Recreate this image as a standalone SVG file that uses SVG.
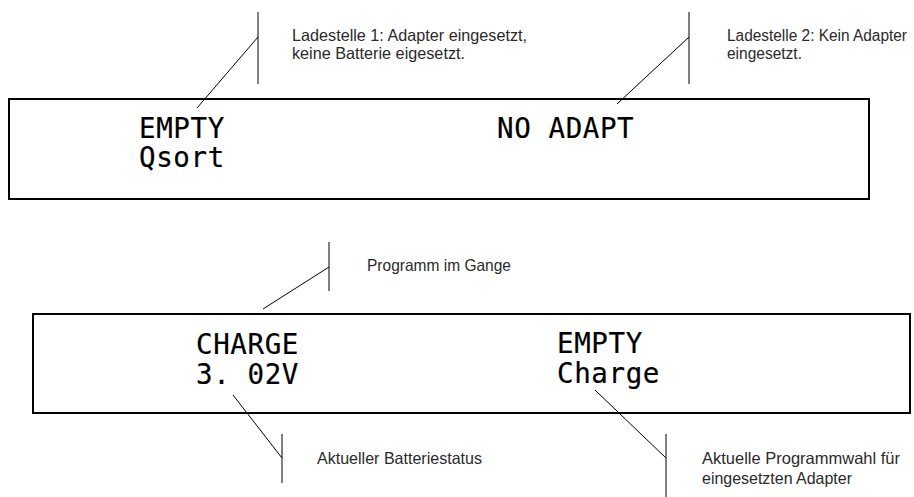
<svg xmlns="http://www.w3.org/2000/svg" width="914" height="497" viewBox="0 0 914 497">
<style>
.box{fill:none;stroke:#000;stroke-width:2}
.ln{fill:none;stroke:#000;stroke-width:1}
.lcd{font-family:"DejaVu Sans Mono","Liberation Mono",monospace;font-size:27.5px;letter-spacing:0.6px;fill:#000;stroke:#000;stroke-width:0.2}
.lbl{font-family:"Liberation Sans","Arial",sans-serif;font-size:16.5px;fill:#2a2a2a}
</style>
<g id="display1">
<rect class="box" x="9" y="99" width="860" height="100"/>
<text class="lcd" x="139" y="138">EMPTY</text>
<text class="lcd" x="139" y="167">Qsort</text>
<text class="lcd" x="497" y="138">NO ADAPT</text>
</g>
<g id="display2">
<rect class="box" x="33" y="314" width="877" height="99"/>
<text class="lcd" x="196" y="354">CHARGE</text>
<text class="lcd" x="196" y="384">3. 02V</text>
<text class="lcd" x="557" y="353">EMPTY</text>
<text class="lcd" x="557" y="383">Charge</text>
</g>
<g id="label1">
<text class="lbl" x="292" y="41" textLength="235" lengthAdjust="spacingAndGlyphs">Ladestelle 1: Adapter eingesetzt,</text>
<text class="lbl" x="292" y="59" textLength="173" lengthAdjust="spacingAndGlyphs">keine Batterie eigesetzt.</text>
</g>
<g id="label2">
<text class="lbl" x="727" y="41" style="font-size:16px" textLength="180" lengthAdjust="spacingAndGlyphs">Ladestelle 2: Kein Adapter</text>
<text class="lbl" x="727" y="59" textLength="75" lengthAdjust="spacingAndGlyphs">eingesetzt.</text>
</g>
<g id="label3">
<text class="lbl" x="367" y="271" textLength="144" lengthAdjust="spacingAndGlyphs">Programm im Gange</text>
</g>
<g id="label4">
<text class="lbl" x="317" y="464" textLength="165" lengthAdjust="spacingAndGlyphs">Aktueller Batteriestatus</text>
</g>
<g id="label5">
<text class="lbl" x="702" y="464" textLength="198" lengthAdjust="spacingAndGlyphs">Aktuelle Programmwahl für</text>
<text class="lbl" x="702" y="484" textLength="150" lengthAdjust="spacingAndGlyphs">eingesetzten Adapter</text>
</g>
<g id="connectors">
<line class="ln" x1="258" y1="12" x2="258" y2="84"/>
<line class="ln" x1="258" y1="37" x2="197" y2="108"/>
<line class="ln" x1="689" y1="12" x2="689" y2="84"/>
<line class="ln" x1="689" y1="37" x2="617" y2="104"/>
<line class="ln" x1="329" y1="242" x2="329" y2="291"/>
<line class="ln" x1="329" y1="267" x2="263" y2="309"/>
<line class="ln" x1="282" y1="434" x2="282" y2="483"/>
<line class="ln" x1="282" y1="458" x2="233" y2="395"/>
<line class="ln" x1="666" y1="434" x2="666" y2="497"/>
<line class="ln" x1="666" y1="458" x2="595" y2="390"/>
</g>
</svg>
